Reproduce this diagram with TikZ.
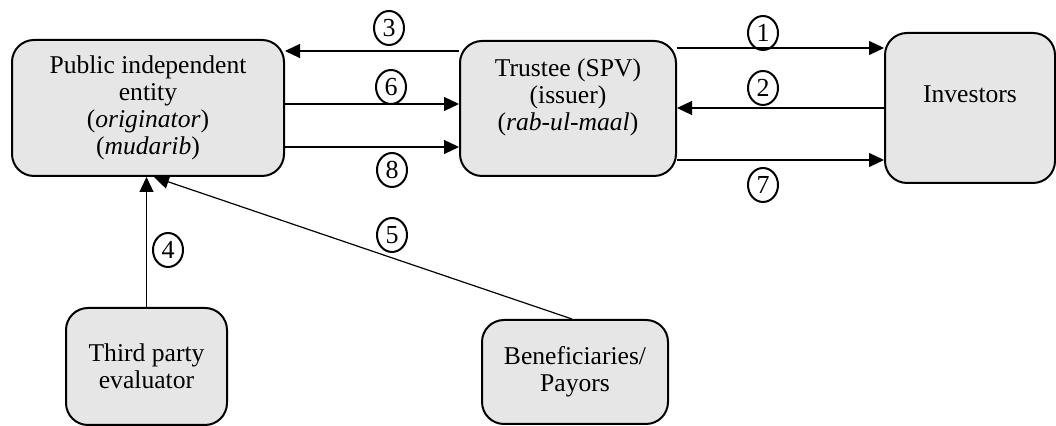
\documentclass[tikz,border=0pt]{standalone}
\usepackage{fontspec}
\setmainfont{Liberation Serif}
\usetikzlibrary{arrows.meta,shapes.geometric}
\definecolor{boxgray}{RGB}{230,230,230}

\begin{document}
\begin{tikzpicture}[x=0.5pt,y=-0.5pt,
    party/.style={draw, line width=1pt, fill=boxgray, rounded corners=11pt, align=center, inner sep=0pt, font=\fontsize{12.8}{13.5}\selectfont},
    flow/.style={-{Triangle[length=7.5pt,width=7pt]}, line width=0.6pt},
    num/.style={draw, ellipse, line width=1pt, minimum width=15pt, minimum height=17pt, inner sep=0pt, font=\fontsize{13}{14}\selectfont}]
    \useasboundingbox (0,0) rectangle (1056,426);
    \node[party, minimum width=136pt, minimum height=68pt] (originator) at (148,108) {Public independent\\entity\\(\textit{originator})\\(\textit{mudarib})};
    \node[party, minimum width=108pt, minimum height=67.5pt] (trustee) at (568,108.5) {Trustee (SPV)\\(issuer)\\(\textit{rab-ul-maal})\\~};
    \node[party, minimum width=85pt, minimum height=75pt] (investors) at (970,108) {Investors\\~};
    \node[party, minimum width=80.5pt, minimum height=58.5pt] (evaluator) at (146.5,366.5) {Third party\\evaluator};
    \node[party, minimum width=93pt, minimum height=52pt] (payors) at (575,372) {Beneficiaries/\\Payors};
    \draw[flow] (trustee.east |- 0,48) -- (investors.west |- 0,48);
    \draw[flow] (investors.west |- 0,108) -- (trustee.east |- 0,108);
    \draw[flow] (trustee.west |- 0,51) -- (originator.east |- 0,51);
    \draw[flow] (evaluator.north) -- (originator.south -| evaluator.north);
    \draw[flow] ([xshift=-1.5pt]payors.north) -- ([xshift=3pt]originator.south);
    \draw[flow] (originator.east |- 0,104) -- (trustee.west |- 0,104);
    \draw[flow] (trustee.east |- 0,160) -- (investors.west |- 0,160);
    \draw[flow] (originator.east |- 0,147) -- (trustee.west |- 0,147);
    \node[num] (n1) at (763,33) {1};
    \node[num] (n2) at (763,88) {2};
    \node[num] (n3) at (389,28) {3};
    \node[num] (n4) at (168,250) {4};
    \node[num] (n5) at (392,235) {5};
    \node[num] (n6) at (391,87) {6};
    \node[num] (n7) at (763,185) {7};
    \node[num] (n8) at (392,170) {8};
\end{tikzpicture}
\end{document}
